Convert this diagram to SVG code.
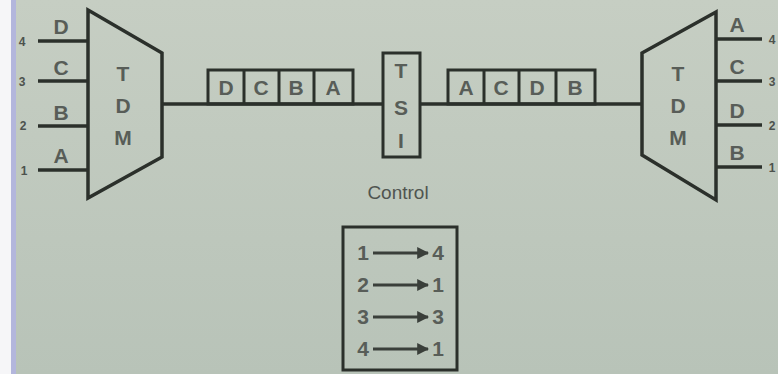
<svg xmlns="http://www.w3.org/2000/svg" width="778" height="374" viewBox="0 0 778 374">
<defs>
<linearGradient id="bg" x1="0" y1="0" x2="0" y2="1">
<stop offset="0" stop-color="#c6cec3"/>
<stop offset="1" stop-color="#b8c3b8"/>
</linearGradient>
<marker id="ah" viewBox="0 0 10 10" refX="9" refY="5" markerWidth="4" markerHeight="4" markerUnits="strokeWidth" orient="auto">
<path d="M0,0 L10,5 L0,10 z" fill="#3a3f3a"/>
</marker>
</defs>
<style>
.ln{stroke:#2b302b;stroke-width:3.5;fill:none}
.sh{stroke:#2b302b;stroke-width:3.5;fill:none;stroke-linejoin:miter}
.bx{stroke:#2b302b;stroke-width:3;fill:none}
.lb{font-family:"Liberation Sans",Arial,sans-serif;font-size:21px;font-weight:bold;fill:#585d58;text-anchor:middle}
.nm{font-family:"Liberation Sans",Arial,sans-serif;font-size:12px;font-weight:bold;fill:#4d524d;text-anchor:middle}
.ct{font-family:"Liberation Sans",Arial,sans-serif;font-size:19px;fill:#505550;text-anchor:middle}
.ar{stroke:#3a3f3a;stroke-width:3;fill:none}
</style>
<rect x="0" y="0" width="778" height="374" fill="url(#bg)"/>
<rect x="0" y="0" width="11" height="374" fill="#f6f6f8"/>
<rect x="11" y="0" width="5" height="374" fill="#b3b6dc"/>

<g id="tdm-left">
<path class="sh" d="M88,10 L162,53 L162,157 L88,198 Z"/>
<text class="lb" x="123" y="81">T</text>
<text class="lb" x="123" y="113">D</text>
<text class="lb" x="123" y="145">M</text>
<line class="ln" x1="38" y1="41" x2="88" y2="41"/>
<line class="ln" x1="38" y1="81" x2="88" y2="81"/>
<line class="ln" x1="38" y1="126" x2="88" y2="126"/>
<line class="ln" x1="38" y1="170" x2="88" y2="170"/>
<text class="lb" x="61" y="34">D</text>
<text class="lb" x="61" y="75">C</text>
<text class="lb" x="61" y="120">B</text>
<text class="lb" x="61" y="163">A</text>
<text class="nm" x="22" y="46">4</text>
<text class="nm" x="22" y="86">3</text>
<text class="nm" x="23" y="130">2</text>
<text class="nm" x="24" y="175">1</text>
</g>

<g id="frame-in">
<rect class="bx" x="208" y="70" width="145" height="34"/>
<line class="bx" x1="244" y1="70" x2="244" y2="104"/>
<line class="bx" x1="279" y1="70" x2="279" y2="104"/>
<line class="bx" x1="314" y1="70" x2="314" y2="104"/>
<text class="lb" x="226" y="95">D</text>
<text class="lb" x="261" y="95">C</text>
<text class="lb" x="296" y="95">B</text>
<text class="lb" x="333" y="95">A</text>
</g>

<g id="tsi">
<rect class="bx" x="383" y="53" width="37" height="104"/>
<text class="lb" x="401" y="78">T</text>
<text class="lb" x="401" y="115">S</text>
<text class="lb" x="401" y="148">I</text>
</g>

<g id="frame-out">
<rect class="bx" x="448" y="70" width="147" height="34"/>
<line class="bx" x1="484" y1="70" x2="484" y2="104"/>
<line class="bx" x1="519" y1="70" x2="519" y2="104"/>
<line class="bx" x1="556" y1="70" x2="556" y2="104"/>
<text class="lb" x="466" y="95">A</text>
<text class="lb" x="501" y="95">C</text>
<text class="lb" x="537" y="95">D</text>
<text class="lb" x="575" y="95">B</text>
</g>

<g id="tdm-right">
<path class="sh" d="M716,12 L642,53 L642,155 L716,200 Z"/>
<text class="lb" x="678" y="81">T</text>
<text class="lb" x="678" y="113">D</text>
<text class="lb" x="678" y="145">M</text>
<line class="ln" x1="716" y1="39" x2="762" y2="39"/>
<line class="ln" x1="716" y1="81" x2="762" y2="81"/>
<line class="ln" x1="716" y1="125" x2="762" y2="125"/>
<line class="ln" x1="716" y1="167" x2="762" y2="167"/>
<text class="lb" x="737" y="32">A</text>
<text class="lb" x="737" y="74">C</text>
<text class="lb" x="737" y="118">D</text>
<text class="lb" x="737" y="160">B</text>
<text class="nm" x="772" y="44">4</text>
<text class="nm" x="772" y="86">3</text>
<text class="nm" x="772" y="130">2</text>
<text class="nm" x="772" y="172">1</text>
</g>

<g id="control">
<text class="ct" x="398" y="199">Control</text>
<rect class="bx" x="343" y="227" width="114" height="143"/>
<text class="lb" x="363" y="260">1</text>
<text class="lb" x="363" y="292">2</text>
<text class="lb" x="363" y="324">3</text>
<text class="lb" x="363" y="356">4</text>
<line class="ar" x1="373" y1="253" x2="428" y2="253" marker-end="url(#ah)"/>
<line class="ar" x1="373" y1="285" x2="428" y2="285" marker-end="url(#ah)"/>
<line class="ar" x1="373" y1="317" x2="428" y2="317" marker-end="url(#ah)"/>
<line class="ar" x1="373" y1="349" x2="428" y2="349" marker-end="url(#ah)"/>
<text class="lb" x="438" y="260">4</text>
<text class="lb" x="438" y="292">1</text>
<text class="lb" x="438" y="324">3</text>
<text class="lb" x="438" y="356">1</text>
</g>

<g id="connectors">
<line class="ln" x1="162" y1="104" x2="383" y2="104"/>
<line class="ln" x1="420" y1="104" x2="642" y2="104"/>
</g>
</svg>
